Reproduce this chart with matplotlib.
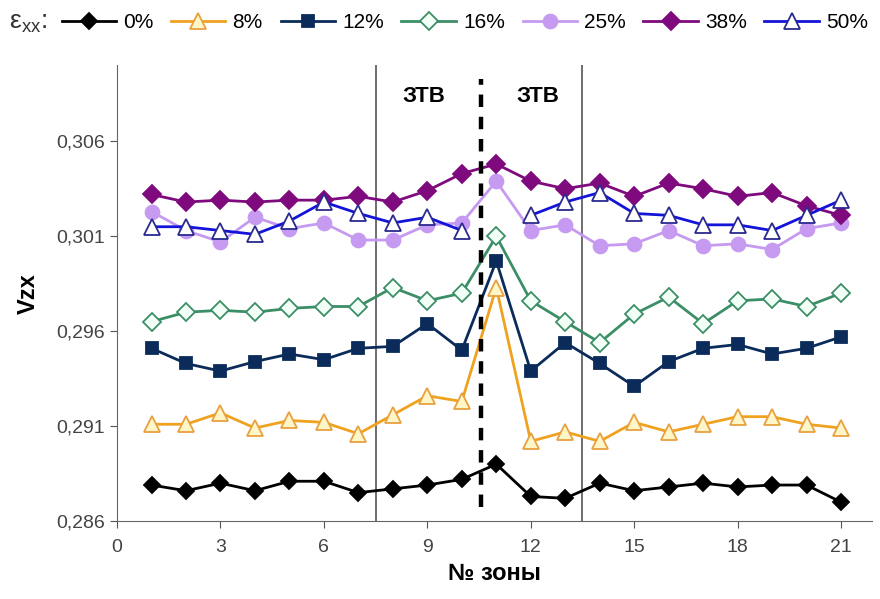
import numpy as np
from matplotlib import pyplot as plt
from matplotlib.lines import Line2D

zones = list(range(1, 22))

# v_zx values per strain level
v0 = [0.2879, 0.2876, 0.2880, 0.2876, 0.2881, 0.2881, 0.2875, 0.2877, 0.2879, 0.2882, 0.2890,
      0.2873, 0.2872, 0.2880, 0.2876, 0.2878, 0.2880, 0.2878, 0.2879, 0.2879, 0.2870]
v8 = [0.2911, 0.2911, 0.2917, 0.2909, 0.2913, 0.2912, 0.2906, 0.2916, 0.2926, 0.2923, 0.2983,
      0.2902, 0.2907, 0.2902, 0.2912, 0.2907, 0.2911, 0.2915, 0.2915, 0.2911, 0.2909]
v12 = [0.2951, 0.2943, 0.2939, 0.2944, 0.2948, 0.2945, 0.2951, 0.2952, 0.2964, 0.2950, 0.2997,
       0.2939, 0.2954, 0.2943, 0.2931, 0.2944, 0.2951, 0.2953, 0.2948, 0.2951, 0.2957]
v16 = [0.2965, 0.2970, 0.2971, 0.2970, 0.2972, 0.2973, 0.2973, 0.2983, 0.2976, 0.2980, 0.3010,
       0.2976, 0.2965, 0.2954, 0.2969, 0.2978, 0.2964, 0.2976, 0.2977, 0.2973, 0.2980]
v25 = [0.3023, 0.3013, 0.3007, 0.3020, 0.3014, 0.3017, 0.3008, 0.3008, 0.3016, 0.3017, 0.3039,
       0.3013, 0.3016, 0.3005, 0.3006, 0.3013, 0.3005, 0.3006, 0.3003, 0.3014, 0.3017]
v38 = [0.3032, 0.3028, 0.3029, 0.3028, 0.3029, 0.3029, 0.3031, 0.3028, 0.3034, 0.3043, 0.3048,
       0.3039, 0.3035, 0.3038, 0.3031, 0.3038, 0.3035, 0.3031, 0.3033, 0.3026, 0.3021]
v50 = [0.3015, 0.3015, 0.3013, 0.3011, 0.3018, 0.3028, 0.3022, 0.3017, 0.3020, 0.3013, np.nan,
       0.3021, 0.3028, 0.3033, 0.3022, 0.3021, 0.3016, 0.3016, 0.3013, 0.3021, 0.3029]

labels = ['0%', '8%', '12%', '16%', '25%', '38%', '50%']
yticks = [0.286, 0.291, 0.296, 0.301, 0.306]
xticks = [0, 3, 6, 9, 12, 15, 18, 21]

plt.rcParams['font.family'] = ['Liberation Sans', 'DejaVu Sans']
plt.rcParams['mathtext.fontset'] = 'custom'
plt.rcParams['mathtext.rm'] = 'Liberation Sans'
plt.rcParams['mathtext.it'] = 'Liberation Sans'

fig = plt.figure(figsize=(8.8, 5.99), dpi=100)
ax = fig.add_axes([0.133, 0.130, 0.858, 0.761])

styles = [
    dict(color='black', marker='D', ms=8, mfc='black', mec='black'),
    dict(color='#EFA21F', marker='^', ms=11, mfc='#FFF6C8', mec='#E8A040'),
    dict(color='#0B2C5A', marker='s', ms=9, mfc='#0B2C5A', mec='#0B2C5A'),
    dict(color='#3C8E66', marker='D', ms=9, mfc='#F2FFF6', mec='#3C8E66'),
    dict(color='#C59AF0', marker='o', ms=10, mfc='#C59AF0', mec='#C59AF0'),
    dict(color='#7E0A7E', marker='D', ms=9, mfc='#7E0A7E', mec='#7E0A7E'),
    dict(color='#1414D8', marker='^', ms=12, mfc='white', mec='#2A2A90'),
]
series = [v0, v8, v12, v16, v25, v38, v50]

# boundaries of zones
ax.axvline(7.5, color='#555555', lw=1.2, zorder=1)
ax.axvline(13.5, color='#555555', lw=1.2, zorder=1)
ax.axvline(10.55, ymin=0.03, ymax=0.97, color='black', lw=3.2, dashes=(2.8, 2.2), zorder=5)

handles = []
for vals, st, lab in zip(series, styles, labels):
    ax.plot(zones, vals, lw=2, mew=1.3, zorder=3, **st)
    handles.append(Line2D([0], [0], lw=2, mew=1.3, **st))

ax.text(8.9, 0.30836, 'ЗТВ', fontsize=16, fontweight='bold', ha='center', va='center')
ax.text(12.2, 0.30836, 'ЗТВ', fontsize=16, fontweight='bold', ha='center', va='center')

ax.set_xlim(0, 21.9)
ax.set_ylim(0.286, 0.310)
ax.set_xticks(xticks)
ax.set_yticks(yticks)
ax.set_yticklabels([f'{t:.3f}'.replace('.', ',') for t in yticks])
ax.tick_params(axis='both', labelsize=14, colors='#555555', labelcolor='#444444', length=5)
ax.tick_params(axis='x', pad=8)

ax.spines['top'].set_visible(False)
ax.spines['right'].set_visible(False)
ax.spines['left'].set_color('#666666')
ax.spines['bottom'].set_color('#666666')

ax.set_xlabel('№ зоны', fontsize=17, fontweight='bold', labelpad=4)
ax.set_ylabel('Vzx', fontsize=17, fontweight='bold', labelpad=12)

fig.text(0.010, 0.962, r'$\mathrm{\varepsilon_{xx}}$:', fontsize=19, va='center', color='#333333')
fig.legend(handles, labels, ncol=7, loc='center left', bbox_to_anchor=(0.07, 0.962),
           frameon=False, fontsize=15, handlelength=2.6, handletextpad=0.35,
           columnspacing=0.85, borderaxespad=0, borderpad=0)

plt.savefig('out.png', dpi=100)
